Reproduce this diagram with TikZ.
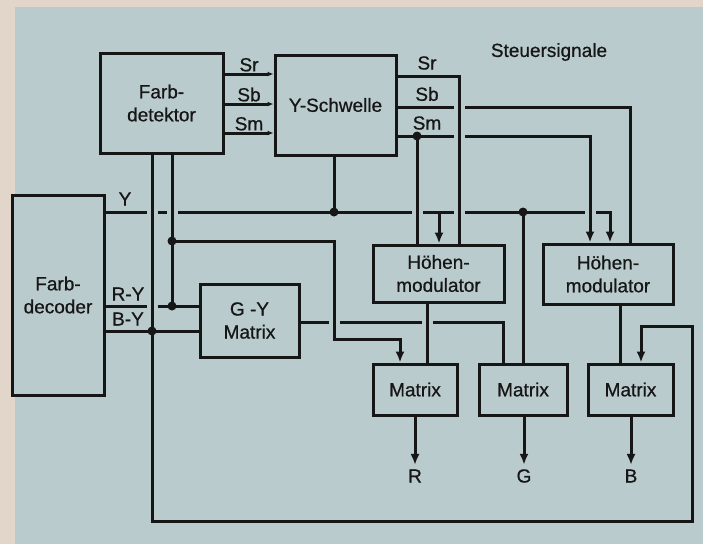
\documentclass[tikz,border=0pt]{standalone}
\usepackage{fontspec}
\setmainfont{Liberation Sans}[FakeBold=0.7]
\usetikzlibrary{arrows.meta,positioning}
\definecolor{paper}{RGB}{226,214,203}
\definecolor{bg}{RGB}{186,203,205}
\definecolor{ink}{RGB}{22,22,22}

\begin{document}
\begin{tikzpicture}[x=1pt,y=-1pt,>={Latex[length=11pt,width=9pt]},
          line width=3pt,color=ink,font=\fontsize{19}{23}\selectfont,
          bx/.style={draw,fill=bg,inner sep=0pt,align=center},
          sig/.style={inner sep=1pt}]
        \fill[paper] (0,0) rectangle (703,544);
        \fill[bg] (15,7) rectangle (703,544);
        \useasboundingbox (0,0) rectangle (703,544);
        % Bloecke
        \node[bx,minimum width=123pt,minimum height=100pt] (det) at (161.5,103) {Farb-\\detektor};
        \node[bx,minimum width=121pt,minimum height=100pt] (yschw) at (335.5,105) {Y-Schwelle};
        \node[bx,minimum width=92pt,minimum height=200pt] (dec) at (58,295) {Farb-\\decoder};
        \node[bx,minimum width=99pt,minimum height=73pt] (gy) at (249.5,320.5) {G -Y\\Matrix};
        \node[bx,minimum width=131pt,minimum height=57pt] (hm1) at (438.5,273.5) {Höhen-\\modulator};
        \node[bx,minimum width=130pt,minimum height=60pt] (hm2) at (608,274) {Höhen-\\modulator};
        \node[bx,minimum width=84pt,minimum height=51pt] (mr) at (415,389.5) {Matrix};
        \node[bx,minimum width=88pt,minimum height=51pt] (mg) at (523,389.5) {Matrix};
        \node[bx,minimum width=85pt,minimum height=51pt] (mb) at (630.5,389.5) {Matrix};
        \node[sig] (r) at (415,476) {R};
        \node[sig] (g) at (524,476) {G};
        \node[sig] (b) at (631,476) {B};
        \node[sig] at (549,52) {Steuersignale};
        % Steuersignale
        \draw[-{Latex[length=6pt,width=5pt]}] (det.east |- 0,74) -- node[sig,above] {Sr} (yschw.west |- 0,74);
        \draw[-{Latex[length=6pt,width=5pt]}] (det.east |- 0,104) -- node[sig,above] {Sb} (yschw.west |- 0,104);
        \draw[-{Latex[length=6pt,width=5pt]}] (det.east |- 0,133) -- node[sig,above] {Sm} (yschw.west |- 0,133);
        \node[sig] at (427,63) {Sr};
        \node[sig] at (427,94) {Sb};
        \node[sig] at (427,123) {Sm};
        \coordinate (smj) at (417,136);
        \draw (yschw.east |- 0,76) -| (hm1.north -| 459,0);
        \draw (yschw.east |- 0,107) -| (hm2.north -| 630,0);
        \draw[->] (yschw.east |- 0,136) -| (hm2.north -| 590,0);
        \draw (smj) -- (hm1.north -| smj);
        % Y
        \coordinate (yj1) at (334,212);
        \coordinate (yt) at (439,212);
        \coordinate (yj2) at (523,212);
        \draw[->] (dec.east |- 0,212) -- (610,212) -- (hm2.north -| 610,0);
        \node[sig] at (125,199) {Y};
        \draw (yj1) -- (yschw.south -| yj1);
        \draw[->] (yt) -- (hm1.north -| yt);
        \draw (yj2) -- (mg.north -| yj2);
        % R-Y, B-Y
        \coordinate (ryj) at (172,306);
        \coordinate (rbr) at (172,241);
        \coordinate (byj) at (152,331);
        \draw (dec.east |- 0,306) -- (gy.west |- 0,306);
        \draw (dec.east |- 0,331) -- (gy.west |- 0,331);
        \node[sig] at (128,294) {R-Y};
        \node[sig] at (128,319) {B-Y};
        \draw[->] (det.south -| byj) -- (byj) -- (152,521) -| (692,326) -| (mb.north -| 641,0);
        \draw (det.south -| ryj) -- (ryj);
        \draw[->] (rbr) -- (334,241) -- (334,339) -| (mr.north -| 400,0);
        \draw (gy.east |- 0,322) -| (mg.north -| 503,0);
        \draw (hm1.south -| 427,0) -- (mr.north -| 427,0);
        \draw (hm2.south -| 620,0) -- (mb.north -| 620,0);
        % Ausgaenge
        \draw[->,shorten >=2pt] (mr) -- (r);
        \draw[->,shorten >=2pt] (mg.south -| g) -- (g);
        \draw[->,shorten >=2pt] (mb.south -| b) -- (b);
        % Knoten und Kreuzungen
        \foreach \c in {yj1,yj2,smj,byj,ryj,rbr}
          \fill (\c) circle (4.5pt);
        \foreach \x/\y in {152/212,172/212,417/212,459/212,590/212,459/107,459/136,152/306,334/322,427/322}{
          \fill[bg] (\x-5.5,\y-3) rectangle (\x+5.5,\y+3);
          \draw (\x,\y-4.5) -- (\x,\y+4.5);
        }
      \end{tikzpicture}
\end{document}
